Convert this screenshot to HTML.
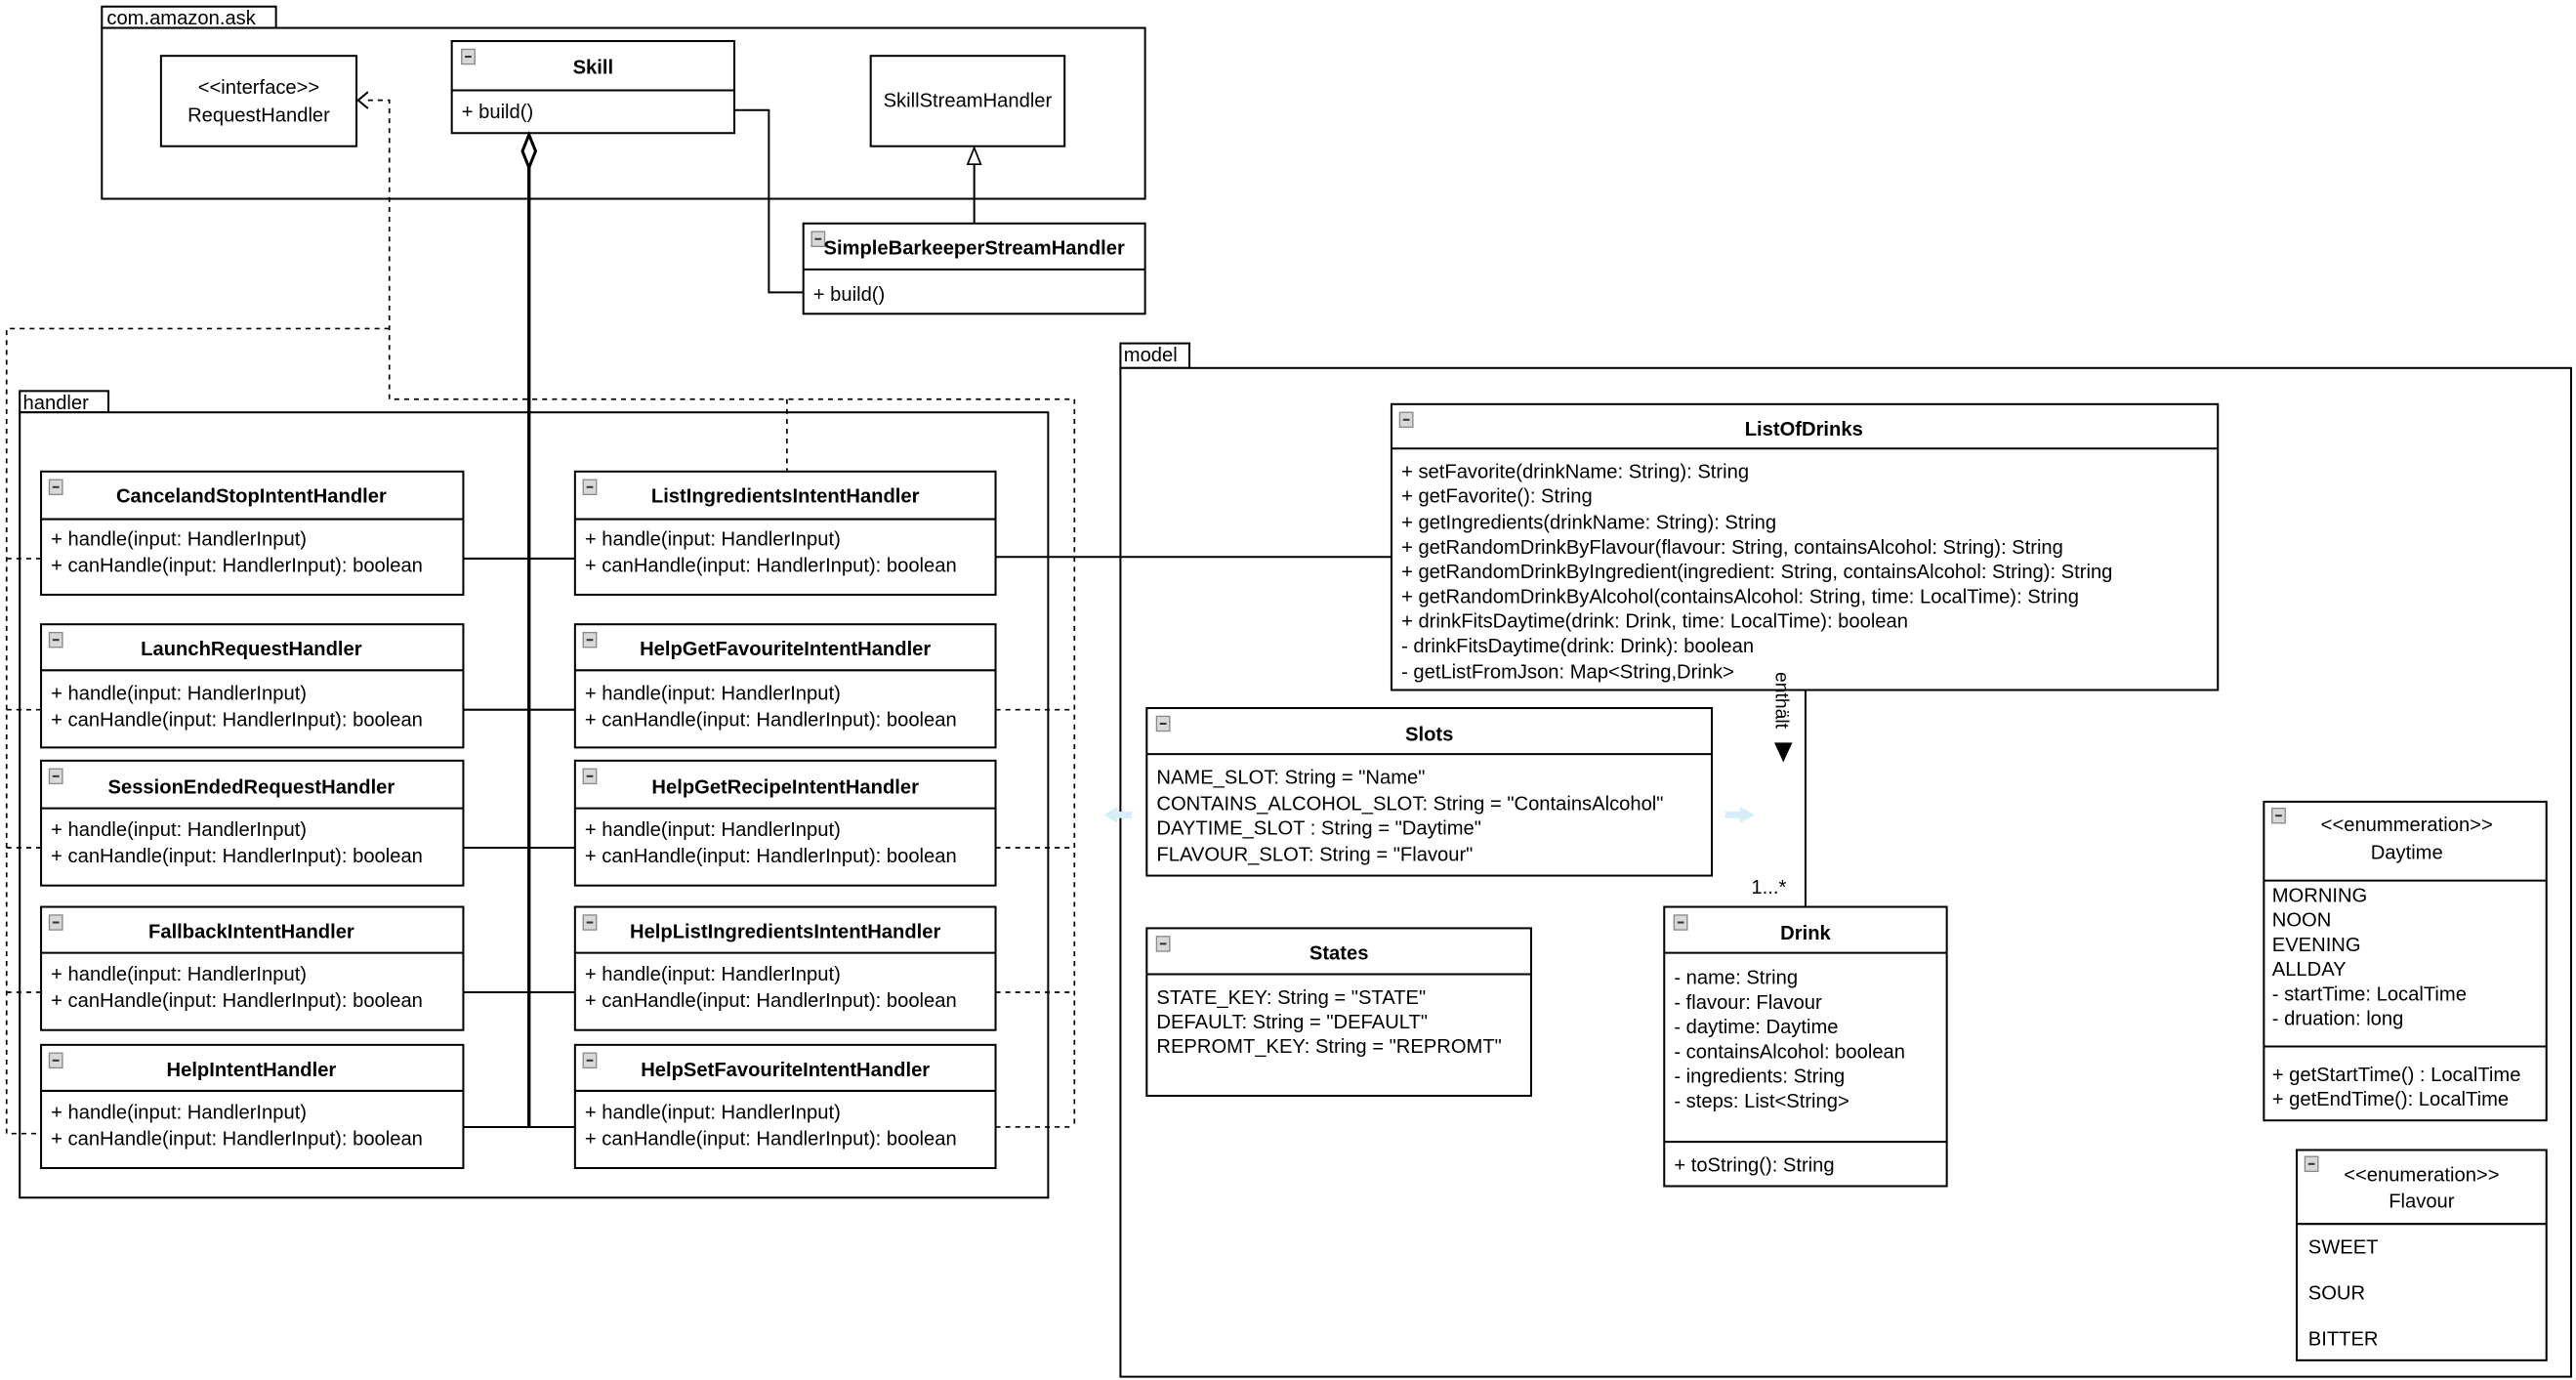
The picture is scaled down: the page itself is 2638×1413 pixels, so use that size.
<!DOCTYPE html>
<html><head><meta charset="utf-8"><style>
html,body{margin:0;padding:0;background:#fff;}
svg{display:block;}
text{font-family:"Liberation Sans",sans-serif;font-size:12px;fill:#000;}
.b{font-weight:bold;}
.m{text-anchor:middle;}
.r{fill:#fff;stroke:#000;stroke-width:1.2;}
.l{fill:none;stroke:#000;stroke-width:1.2;}
.d{fill:none;stroke:#000;stroke-width:1;stroke-dasharray:3,3;}
.ic{fill:#d8d8d8;stroke:#8a8a8a;stroke-width:0.8;}
</style></head><body>
<svg width="2638" height="1413" viewBox="0 0 1568 840" preserveAspectRatio="none" xmlns="http://www.w3.org/2000/svg">
<defs>
<g id="ic"><rect class="ic" x="0" y="0" width="8" height="9"/><line x1="2" y1="4.5" x2="6" y2="4.5" stroke="#333" stroke-width="1.2"/></g>
</defs>
<!-- com.amazon.ask package -->
<rect class="r" x="62" y="4" width="106" height="13"/>
<text x="65" y="15">com.amazon.ask</text>
<rect class="r" x="62" y="17" width="635" height="104"/>

<!-- handler package -->
<rect class="r" x="12" y="238" width="54" height="13"/>
<text x="14" y="249">handler</text>
<rect class="r" x="12" y="251" width="626" height="478"/>

<!-- model package -->
<rect class="r" x="682" y="209" width="42" height="15"/>
<text x="684" y="220">model</text>
<rect class="r" x="682" y="224" width="883" height="614"/>

<!-- dashed lines -->
<polyline class="d" points="224,61 237,61 237,243 654,243 654,686"/>
<line class="d" x1="479" y1="243" x2="479" y2="287"/>
<polyline class="d" points="237,200 4,200 4,690 25,690"/>
<line class="d" x1="4" y1="340" x2="25" y2="340"/>
<line class="d" x1="4" y1="432" x2="25" y2="432"/>
<line class="d" x1="4" y1="516" x2="25" y2="516"/>
<line class="d" x1="4" y1="604" x2="25" y2="604"/>
<line class="d" x1="606" y1="432" x2="654" y2="432"/>
<line class="d" x1="606" y1="516" x2="654" y2="516"/>
<line class="d" x1="606" y1="604" x2="654" y2="604"/>
<line class="d" x1="606" y1="686" x2="654" y2="686"/>
<polyline class="l" points="224,56 218,61 224,66" stroke-width="1"/>

<!-- RequestHandler -->
<rect class="r" x="98" y="34" width="119" height="55"/>
<text class="m" x="157.5" y="57">&lt;&lt;interface&gt;&gt;</text>
<text class="m" x="157.5" y="74">RequestHandler</text>

<!-- Skill -->
<rect class="r" x="275" y="25" width="172" height="56"/>
<line class="l" x1="275" y1="55" x2="447" y2="55"/>
<use href="#ic" x="281" y="30"/>
<text class="b m" x="361" y="45">Skill</text>
<text x="281" y="72">+ build()</text>

<!-- SkillStreamHandler -->
<rect class="r" x="530" y="34" width="118" height="55"/>
<text class="m" x="589" y="65">SkillStreamHandler</text>

<!-- SimpleBarkeeper -->
<rect class="r" x="489" y="136" width="208" height="55"/>
<line class="l" x1="489" y1="164" x2="697" y2="164"/>
<use href="#ic" x="494" y="141"/>
<text class="b m" x="593" y="155">SimpleBarkeeperStreamHandler</text>
<text x="495" y="183">+ build()</text>

<polyline class="l" points="447,67 468,67 468,178 489,178"/>
<line class="l" x1="593" y1="100" x2="593" y2="136"/>
<polygon points="589,100 597,100 593,90" fill="#fff" stroke="#000" stroke-width="1"/>

<!-- aggregation -->
<line x1="322" y1="101" x2="322" y2="686" stroke="#000" stroke-width="2"/>
<polygon points="322,82 326,92 322,102 318,92" fill="#fff" stroke="#000" stroke-width="1.8"/>

<!-- handler connections -->
<line class="l" x1="282" y1="340" x2="350" y2="340"/>
<line class="l" x1="282" y1="432" x2="350" y2="432"/>
<line class="l" x1="282" y1="516" x2="350" y2="516"/>
<line class="l" x1="282" y1="604" x2="350" y2="604"/>
<line class="l" x1="282" y1="686" x2="350" y2="686"/>
<line class="l" x1="606" y1="339" x2="847" y2="339"/>

<!-- left handlers -->
<g>
<rect class="r" x="25" y="287" width="257" height="75"/><line class="l" x1="25" y1="316" x2="282" y2="316"/><use href="#ic" x="30" y="292"/>
<text class="b m" x="153" y="306">CancelandStopIntentHandler</text>
<text x="31" y="332">+ handle(input: HandlerInput)</text><text x="31" y="348">+ canHandle(input: HandlerInput): boolean</text>

<rect class="r" x="25" y="380" width="257" height="75"/><line class="l" x1="25" y1="408" x2="282" y2="408"/><use href="#ic" x="30" y="385"/>
<text class="b m" x="153" y="399">LaunchRequestHandler</text>
<text x="31" y="426">+ handle(input: HandlerInput)</text><text x="31" y="442">+ canHandle(input: HandlerInput): boolean</text>

<rect class="r" x="25" y="463" width="257" height="76"/><line class="l" x1="25" y1="492" x2="282" y2="492"/><use href="#ic" x="30" y="468"/>
<text class="b m" x="153" y="483">SessionEndedRequestHandler</text>
<text x="31" y="509">+ handle(input: HandlerInput)</text><text x="31" y="525">+ canHandle(input: HandlerInput): boolean</text>

<rect class="r" x="25" y="552" width="257" height="75"/><line class="l" x1="25" y1="580" x2="282" y2="580"/><use href="#ic" x="30" y="557"/>
<text class="b m" x="153" y="571">FallbackIntentHandler</text>
<text x="31" y="597">+ handle(input: HandlerInput)</text><text x="31" y="613">+ canHandle(input: HandlerInput): boolean</text>

<rect class="r" x="25" y="636" width="257" height="75"/><line class="l" x1="25" y1="664" x2="282" y2="664"/><use href="#ic" x="30" y="641"/>
<text class="b m" x="153" y="655">HelpIntentHandler</text>
<text x="31" y="681">+ handle(input: HandlerInput)</text><text x="31" y="697">+ canHandle(input: HandlerInput): boolean</text>
</g>
<!-- right handlers -->
<g>
<rect class="r" x="350" y="287" width="256" height="75"/><line class="l" x1="350" y1="316" x2="606" y2="316"/><use href="#ic" x="355" y="292"/>
<text class="b m" x="478" y="306">ListIngredientsIntentHandler</text>
<text x="356" y="332">+ handle(input: HandlerInput)</text><text x="356" y="348">+ canHandle(input: HandlerInput): boolean</text>

<rect class="r" x="350" y="380" width="256" height="75"/><line class="l" x1="350" y1="408" x2="606" y2="408"/><use href="#ic" x="355" y="385"/>
<text class="b m" x="478" y="399">HelpGetFavouriteIntentHandler</text>
<text x="356" y="426">+ handle(input: HandlerInput)</text><text x="356" y="442">+ canHandle(input: HandlerInput): boolean</text>

<rect class="r" x="350" y="463" width="256" height="76"/><line class="l" x1="350" y1="492" x2="606" y2="492"/><use href="#ic" x="355" y="468"/>
<text class="b m" x="478" y="483">HelpGetRecipeIntentHandler</text>
<text x="356" y="509">+ handle(input: HandlerInput)</text><text x="356" y="525">+ canHandle(input: HandlerInput): boolean</text>

<rect class="r" x="350" y="552" width="256" height="75"/><line class="l" x1="350" y1="580" x2="606" y2="580"/><use href="#ic" x="355" y="557"/>
<text class="b m" x="478" y="571">HelpListIngredientsIntentHandler</text>
<text x="356" y="597">+ handle(input: HandlerInput)</text><text x="356" y="613">+ canHandle(input: HandlerInput): boolean</text>

<rect class="r" x="350" y="636" width="256" height="75"/><line class="l" x1="350" y1="664" x2="606" y2="664"/><use href="#ic" x="355" y="641"/>
<text class="b m" x="478" y="655">HelpSetFavouriteIntentHandler</text>
<text x="356" y="681">+ handle(input: HandlerInput)</text><text x="356" y="697">+ canHandle(input: HandlerInput): boolean</text>
</g>

<!-- ListOfDrinks -->
<rect class="r" x="847" y="246" width="503" height="174"/><line class="l" x1="847" y1="273" x2="1350" y2="273"/><use href="#ic" x="852" y="251"/>
<text class="b m" x="1098" y="265">ListOfDrinks</text>
<text x="853" y="291">+ setFavorite(drinkName: String): String</text>
<text x="853" y="306">+ getFavorite(): String</text>
<text x="853" y="322">+ getIngredients(drinkName: String): String</text>
<text x="853" y="337">+ getRandomDrinkByFlavour(flavour: String, containsAlcohol: String): String</text>
<text x="853" y="352">+ getRandomDrinkByIngredient(ingredient: String, containsAlcohol: String): String</text>
<text x="853" y="367">+ getRandomDrinkByAlcohol(containsAlcohol: String, time: LocalTime): String</text>
<text x="853" y="382">+ drinkFitsDaytime(drink: Drink, time: LocalTime): boolean</text>
<text x="853" y="397">- drinkFitsDaytime(drink: Drink): boolean</text>
<text x="853" y="413">- getListFromJson: Map&lt;String,Drink&gt;</text>

<!-- association -->
<line class="l" x1="1099" y1="420" x2="1099" y2="552"/>
<text transform="translate(1081,409) rotate(90)" style="font-size:11.5px">enthält</text>
<polygon points="1080,452 1091,452 1085.5,464" fill="#000"/>
<text x="1066" y="544">1...*</text>

<!-- Slots -->
<rect class="r" x="698" y="431" width="344" height="102"/><line class="l" x1="698" y1="459" x2="1042" y2="459"/><use href="#ic" x="704" y="436"/>
<text class="b m" x="870" y="451">Slots</text>
<text x="704" y="477">NAME_SLOT: String = "Name"</text>
<text x="704" y="493">CONTAINS_ALCOHOL_SLOT: String = "ContainsAlcohol"</text>
<text x="704" y="508">DAYTIME_SLOT : String = "Daytime"</text>
<text x="704" y="524">FLAVOUR_SLOT: String = "Flavour"</text>
<polygon points="672,496 680,491 680,501" fill="#d6eefa"/><rect x="680" y="494" width="9" height="4" fill="#d6eefa"/>
<rect x="1050" y="494" width="9" height="4" fill="#d6eefa"/><polygon points="1068,496 1059,491 1059,501" fill="#d6eefa"/>

<!-- States -->
<rect class="r" x="698" y="565" width="234" height="102"/><line class="l" x1="698" y1="593" x2="932" y2="593"/><use href="#ic" x="704" y="570"/>
<text class="b m" x="815" y="584">States</text>
<text x="704" y="611">STATE_KEY: String = "STATE"</text>
<text x="704" y="626">DEFAULT: String = "DEFAULT"</text>
<text x="704" y="641">REPROMT_KEY: String = "REPROMT"</text>

<!-- Drink -->
<rect class="r" x="1013" y="552" width="172" height="170"/><line class="l" x1="1013" y1="580" x2="1185" y2="580"/><line class="l" x1="1013" y1="695" x2="1185" y2="695"/><use href="#ic" x="1019" y="557"/>
<text class="b m" x="1099" y="572">Drink</text>
<text x="1019" y="599">- name: String</text>
<text x="1019" y="614">- flavour: Flavour</text>
<text x="1019" y="629">- daytime: Daytime</text>
<text x="1019" y="644">- containsAlcohol: boolean</text>
<text x="1019" y="659">- ingredients: String</text>
<text x="1019" y="674">- steps: List&lt;String&gt;</text>
<text x="1019" y="713">+ toString(): String</text>

<!-- Daytime -->
<rect class="r" x="1378" y="488" width="172" height="194"/><line class="l" x1="1378" y1="536" x2="1550" y2="536"/><line class="l" x1="1378" y1="637" x2="1550" y2="637"/><use href="#ic" x="1383" y="492"/>
<text class="m" x="1465" y="506">&lt;&lt;enummeration&gt;&gt;</text>
<text class="m" x="1465" y="523">Daytime</text>
<text x="1383" y="549">MORNING</text>
<text x="1383" y="564">NOON</text>
<text x="1383" y="579">EVENING</text>
<text x="1383" y="594">ALLDAY</text>
<text x="1383" y="609">- startTime: LocalTime</text>
<text x="1383" y="624">- druation: long</text>
<text x="1383" y="658">+ getStartTime() : LocalTime</text>
<text x="1383" y="673">+ getEndTime(): LocalTime</text>

<!-- Flavour -->
<rect class="r" x="1398" y="700" width="152" height="128"/><line class="l" x1="1398" y1="745" x2="1550" y2="745"/><use href="#ic" x="1403" y="704"/>
<text class="m" x="1474" y="719">&lt;&lt;enumeration&gt;&gt;</text>
<text class="m" x="1474" y="735">Flavour</text>
<text x="1405" y="763">SWEET</text>
<text x="1405" y="791">SOUR</text>
<text x="1405" y="819">BITTER</text>
</svg>
</body></html>
